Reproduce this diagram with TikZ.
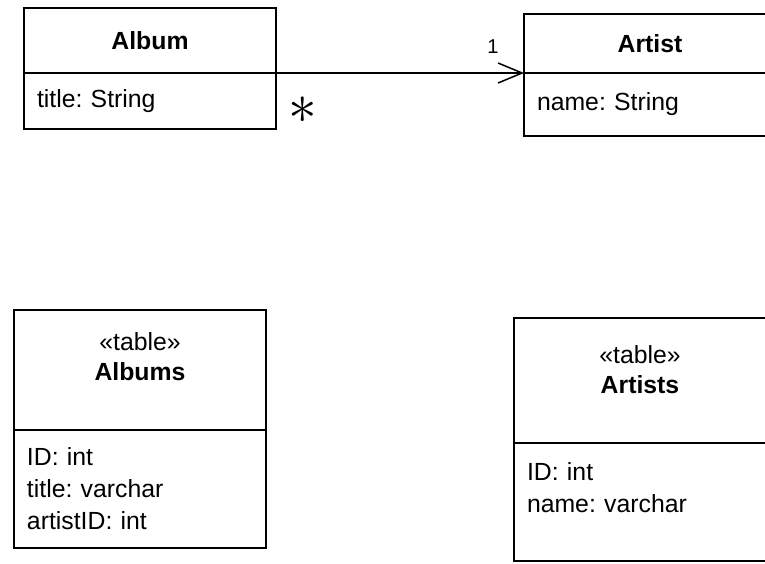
\documentclass[tikz,border=0pt]{standalone}
\usepackage{fontspec}
\setmainfont{Liberation Sans}
\frenchspacing
\usetikzlibrary{arrows.meta, positioning}

\begin{document}
\begin{tikzpicture}[
    x=1pt, y=-1pt,
    every node/.style={font=\fontsize{24.8}{32}\selectfont},
    head/.style={rectangle, draw, line width=1.5pt, outer sep=0pt, minimum width=252pt, font=\fontsize{24.8}{32}\selectfont\bfseries},
    attrs/.style={rectangle, draw, line width=1.5pt, outer sep=0pt, text width=226pt, inner xsep=13pt, align=left},
    stereo/.style={align=center, inner sep=0pt, font=\fontsize{24.8}{30}\selectfont},
    assoc/.style={draw, line width=1.5pt, -{Straight Barb[length=24pt, width=20pt]}},
    mult/.style={inner sep=0pt}
]
\useasboundingbox (0,0) rectangle (765,564);

% Classes
\node[head, minimum height=65pt] (album) at (150,40.5) {Album};
\node[attrs, below=0pt of album, minimum height=56pt] (albumattr) {title: String};
\node[head, minimum height=59pt] (artist) at (650,43.5) {Artist};
\node[attrs, below=0pt of artist, minimum height=63pt] (artistattr) {name: String};

% Association
\draw[assoc] (albumattr.north east) --
    node[mult, pos=0.11, yshift=-37pt] (many) {\scalebox{2.3}{$\ast$}}
    node[mult, pos=0.875, yshift=26.5pt, font=\fontsize{20}{20}\selectfont] (one) {1}
    (artistattr.north west);

% Tables
\node[head, minimum height=120pt] (albums) at (140,370) {};
\node[stereo] (albumsname) at ([yshift=-47pt]albums.north) {«table»\\\textbf{Albums}};
\node[attrs, below=0pt of albums, minimum height=118pt] (albumscols) {ID: int\\title: varchar\\artistID: int};

\node[head, minimum height=125pt] (artists) at (640,380.5) {};
\node[stereo] (artistsname) at ([yshift=-51.5pt]artists.north) {«table»\\\textbf{Artists}};
\node[attrs, below=0pt of artists, minimum height=118pt, text depth=60pt] (artistscols) {ID: int\\name: varchar};

\end{tikzpicture}
\end{document}
